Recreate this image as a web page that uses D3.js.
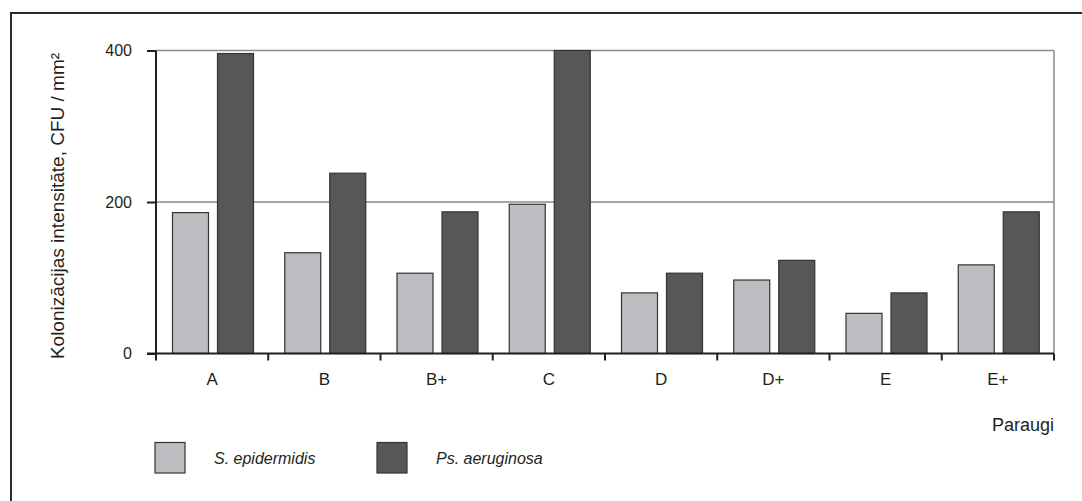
<!DOCTYPE html>
<html><head><meta charset="utf-8">
<script src="https://cdn.jsdelivr.net/npm/d3@7"></script>
<style>body{margin:0;background:#fff}svg{display:block}text{font-family:"Liberation Sans",Arial,sans-serif;fill:#231f20}</style>
</head><body>
<script>
const categories = ["A","B","B+","C","D","D+","E","E+"];
const seriesNames = ["S. epidermidis","Ps. aeruginosa"];
const sEpidermidis = [186,133,106,197,80,97,53,117];
const psAeruginosa = [396,238,187,400,106,123,80,187];
const yTicks = [0,200,400];
const colors = ["#bcbdc0","#555759"];
const yTitle = "Kolonizācijas intensitāte, CFU / mm²";
const xTitle = "Paraugi";

(function(){
const W=1082,H=501;
const svg=d3.select("body").append("svg").attr("width",W).attr("height",H);
// outer frame
svg.append("rect").attr("x",11).attr("y",13).attr("width",1200).attr("height",600)
  .attr("fill","none").attr("stroke","#2a2a2a").attr("stroke-width",2);

const pL=156,pR=1054,pT=50.5,pB=353.5;
const x=d3.scaleBand().domain(categories).range([pL,pR]).padding(0);
const x1=d3.scaleBand().domain([0,1]).range([16.5,97.5]).paddingInner(0.2);
const y=d3.scaleLinear().domain([0,400]).range([pB,pT]);

// gridlines
const g=svg.append("g");
g.selectAll("line.grid").data(yTicks.filter(d=>d>0)).join("line")
  .attr("x1",pL).attr("x2",pR).attr("y1",d=>y(d)).attr("y2",d=>y(d))
  .attr("stroke","#8a8a8a").attr("stroke-width",1.5);
g.append("line").attr("x1",pR).attr("x2",pR).attr("y1",y(400)).attr("y2",y(0))
  .attr("stroke","#8a8a8a").attr("stroke-width",1.5);

// bars
const data=categories.map((c,i)=>({c,v:[sEpidermidis[i],psAeruginosa[i]]}));
const grp=svg.selectAll("g.cat").data(data).join("g").attr("transform",d=>`translate(${x(d.c)},0)`);
grp.selectAll("rect").data(d=>d.v.map((v,j)=>({v,j}))).join("rect")
  .attr("x",d=>x1(d.j)).attr("width",x1.bandwidth())
  .attr("y",d=>y(d.v)).attr("height",d=>y(0)-y(d.v))
  .attr("fill",d=>colors[d.j]).attr("stroke","#333").attr("stroke-width",1.2);

// y axis
const yAxis=d3.axisLeft(y).tickValues(yTicks).tickSize(9).tickPadding(15).tickFormat(d3.format("d"));
const ya=svg.append("g").attr("transform",`translate(${pL},0)`).call(yAxis);
ya.select(".domain").attr("stroke","#231f20").attr("stroke-width",2).attr("d",`M0,${pT}V${pB}`);
ya.selectAll(".tick line").attr("stroke","#231f20").attr("stroke-width",2);
ya.selectAll(".tick text").attr("font-size",16).attr("font-family","Liberation Sans, Arial, sans-serif").attr("fill","#231f20");

// x axis
const xb=d3.scaleLinear().domain([0,categories.length]).range([pL,pR]);
const xa=svg.append("g");
xa.append("line").attr("x1",pL-9).attr("x2",pR).attr("y1",pB).attr("y2",pB)
  .attr("stroke","#231f20").attr("stroke-width",2);
xa.selectAll("line.tk").data(d3.range(categories.length+1)).join("line")
  .attr("x1",d=>xb(d)).attr("x2",d=>xb(d)).attr("y1",pB).attr("y2",pB+7)
  .attr("stroke","#231f20").attr("stroke-width",2);
xa.selectAll("text").data(categories).join("text")
  .attr("x",d=>x(d)+x.bandwidth()/2).attr("y",385).attr("text-anchor","middle")
  .attr("font-size",17).text(d=>d);

// titles
svg.append("text").attr("transform","translate(64,206) rotate(-90)").attr("text-anchor","middle")
  .attr("font-size",19).text(yTitle);
svg.append("text").attr("x",pR).attr("y",431).attr("text-anchor","end").attr("font-size",18).text(xTitle);

// legend
const legX=[155,377];
seriesNames.forEach((n,i)=>{
  svg.append("rect").attr("x",legX[i]).attr("y",442.5).attr("width",30).attr("height",30.5)
    .attr("fill",colors[i]).attr("stroke","#333").attr("stroke-width",1.2);
  svg.append("text").attr("x",legX[i]+59).attr("y",464).attr("font-size",16).attr("font-style","italic").text(n);
});
})();
</script>
</body></html>
